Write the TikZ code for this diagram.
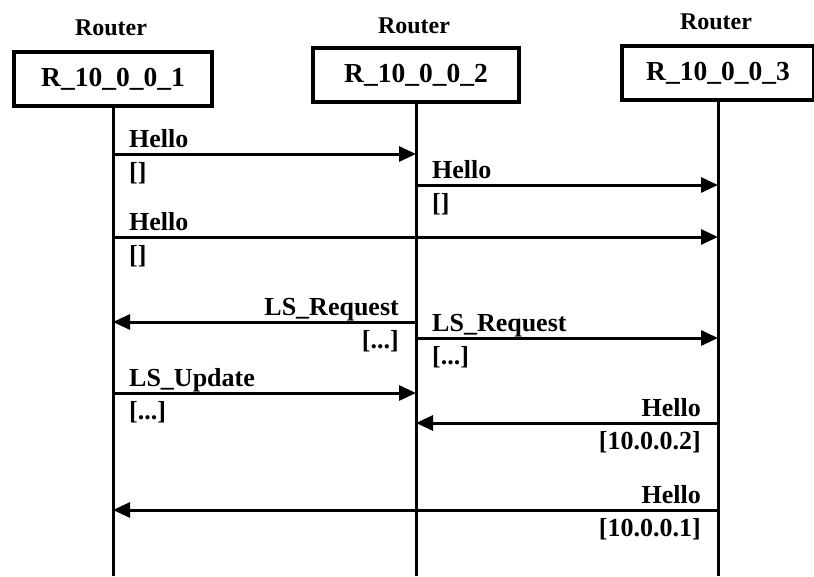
\documentclass[tikz,border=0pt]{standalone}
\usepackage{fontspec}
\setmainfont{Liberation Serif}
\usepackage{tikz}
\usetikzlibrary{arrows.meta}

\tikzset{
  routerbox/.style={draw=black,line width=3.5pt,minimum height=54pt,inner sep=0pt,
    font=\fontsize{27.5}{30}\selectfont\bfseries},
  kindlabel/.style={inner sep=0pt,font=\fontsize{24}{28}\selectfont\bfseries},
  lifeline/.style={line width=3pt},
  msg/.style={line width=3pt,-{Triangle[length=17pt,width=15pt]}},
  lbl/.style={inner sep=0pt,font=\fontsize{26}{30}\selectfont\bfseries},
  nameL/.style={lbl,anchor=base west,xshift=16pt,yshift=7pt},
  argL/.style={lbl,anchor=base west,xshift=16pt,yshift=-26pt},
  nameR/.style={lbl,anchor=base east,xshift=-17pt,yshift=7pt},
  argR/.style={lbl,anchor=base east,xshift=-17pt,yshift=-26pt}
}

\begin{document}
\begin{tikzpicture}[x=1pt,y=-1pt]
\useasboundingbox (0,0) rectangle (814,576);
% Routers
\node [kindlabel] (Kind1) at (111,28) {Router};
\node [kindlabel] (Kind2) at (414,26) {Router};
\node [kindlabel] (Kind3) at (716,22) {Router};
\node [routerbox,minimum width=198pt] (R1) at (113,79) {R\_10\_0\_0\_1};
\node [routerbox,minimum width=206pt] (R2) at (416,75) {R\_10\_0\_0\_2};
\node [routerbox,minimum width=192pt] (R3) at (718,73) {R\_10\_0\_0\_3};
% Lifelines
\coordinate (Bot1) at (113,576);
\coordinate (Bot2) at (416,576);
\coordinate (Bot3) at (718,576);
\draw [lifeline] (R1.south) -- (Bot1);
\draw [lifeline] (R2.south) -- (Bot2);
\draw [lifeline] (R3.south) -- (Bot3);
% Message end points
\coordinate (M1s) at (113,154); \coordinate (M1e) at (416,154);
\coordinate (M2s) at (416,185); \coordinate (M2e) at (718,185);
\coordinate (M3s) at (113,237); \coordinate (M3e) at (718,237);
\coordinate (M4s) at (416,322); \coordinate (M4e) at (113,322);
\coordinate (M5s) at (416,338); \coordinate (M5e) at (718,338);
\coordinate (M6s) at (113,393); \coordinate (M6e) at (416,393);
\coordinate (M7s) at (718,423); \coordinate (M7e) at (416,423);
\coordinate (M8s) at (718,510); \coordinate (M8e) at (113,510);
% Messages
\draw [msg] (M1s) -- (M1e);
\draw [msg] (M2s) -- (M2e);
\draw [msg] (M3s) -- (M3e);
\draw [msg] (M4s) -- (M4e);
\draw [msg] (M5s) -- (M5e);
\draw [msg] (M6s) -- (M6e);
\draw [msg] (M7s) -- (M7e);
\draw [msg] (M8s) -- (M8e);
% Message labels
\node [nameL] (Name1) at (M1s) {Hello};
\node [argL] (Arg1) at (M1s) {[]};
\node [nameL] (Name2) at (M2s) {Hello};
\node [argL] (Arg2) at (M2s) {[]};
\node [nameL] (Name3) at (M3s) {Hello};
\node [argL] (Arg3) at (M3s) {[]};
\node [nameR] (Name4) at (M4s) {LS\_Request};
\node [argR] (Arg4) at (M4s) {[...]};
\node [nameL] (Name5) at (M5s) {LS\_Request};
\node [argL] (Arg5) at (M5s) {[...]};
\node [nameL] (Name6) at (M6s) {LS\_Update};
\node [argL] (Arg6) at (M6s) {[...]};
\node [nameR] (Name7) at (M7s) {Hello};
\node [argR] (Arg7) at (M7s) {[10.0.0.2]};
\node [nameR] (Name8) at (M8s) {Hello};
\node [argR] (Arg8) at (M8s) {[10.0.0.1]};
\end{tikzpicture}
\end{document}
